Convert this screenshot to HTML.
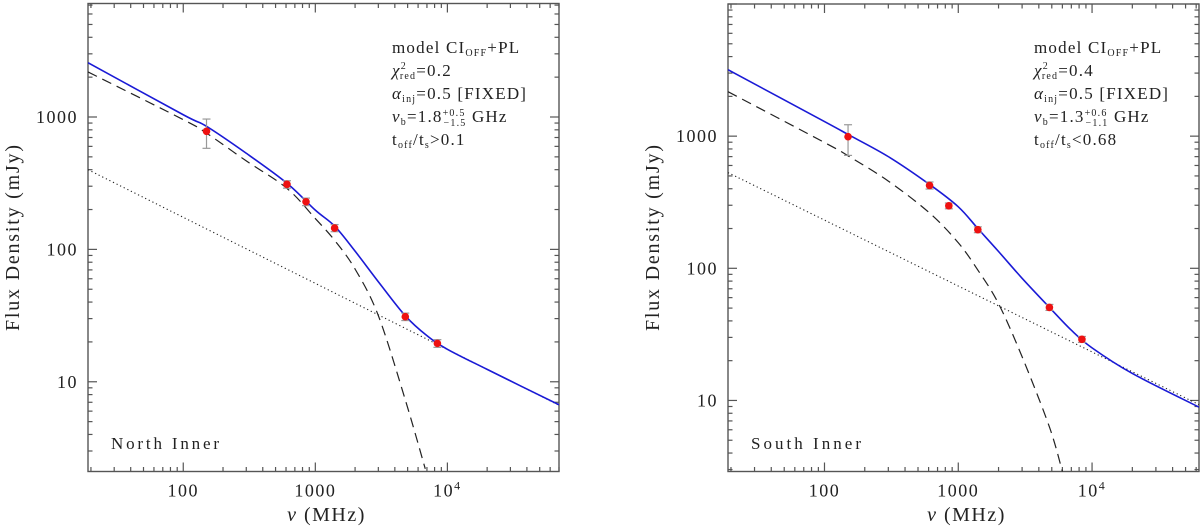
<!DOCTYPE html>
<html><head><meta charset="utf-8"><style>
html,body{margin:0;padding:0;background:#fff;}
svg{display:block;font-family:"Liberation Serif","DejaVu Serif",serif;}
</style></head><body>
<svg id="fig" width="1200" height="527" viewBox="0 0 1200 527" xmlns="http://www.w3.org/2000/svg"></svg>
<script>
// ---- data ----
const dataFreqs = [150, 610, 850, 1400, 4800, 8400];
const northFlux = [780, 310, 229, 145, 31, 19.5];
const northErrLo = [580, 290, 214, 136, 29, 18.2];
const northErrHi = [965, 330, 244, 154, 33, 20.8];
const southFlux = [990, 424, 297, 196, 50.6, 29];
const southErrLo = [715, 398, 282, 186, 48, 27.5];
const southErrHi = [1220, 450, 312, 206, 53.3, 30.5];

const modelFreqsN = [19, 100, 150, 300, 610, 1000, 1400, 2000, 3000, 4800, 7000, 10000, 20000, 70000];
const northModel = [2570, 1040, 850, 532, 316, 198, 150, 97, 57, 31.5, 22.3, 17.6, 12.4, 6.7];
const cioffFreqsN = [19, 100, 150, 300, 610, 1000, 1400, 2000, 3000, 4800, 6800];
const northCI = [2190, 955, 755, 466, 289, 171, 117, 71, 31.6, 7.3, 2.2];
const plFreqsN = [19, 70000];
const northPL = [400, 6.65];

const modelFreqsS = [19, 100, 150, 300, 610, 1000, 1400, 2000, 3000, 4800, 7000, 10000, 20000, 63000];
const southModel = [3180, 1290, 1030, 700, 431, 292, 200, 134, 84, 50.6, 34, 25, 16, 8.9];
const cioffFreqsS = [19, 100, 150, 300, 610, 1000, 1400, 2000, 3000, 4800, 6000];
const southCI = [2170, 895, 710, 457, 262, 156, 97, 54, 21.4, 6.3, 2.9];
const plFreqsS = [19, 63000];
const southPL = [530, 9.3];

const xTickVals = [100, 1000, 10000];
const xTickLabels = ["100", "1000", "10^4"];
const yTickVals = [10, 100, 1000];
const yTickLabels = ["10", "100", "1000"];

const NS = "http://www.w3.org/2000/svg";
const svg = document.getElementById('fig');
function mk(tag, attrs, parent) {
  const e = document.createElementNS(NS, tag);
  for (const k in attrs) e.setAttribute(k, attrs[k]);
  (parent || svg).appendChild(e);
  return e;
}
function smoothPath(pts) {
  let d = 'M' + pts[0][0].toFixed(2) + ',' + pts[0][1].toFixed(2);
  for (let i = 0; i < pts.length - 1; i++) {
    const p0 = pts[i - 1] || pts[i], p1 = pts[i], p2 = pts[i + 1], p3 = pts[i + 2] || p2;
    const c1 = [p1[0] + (p2[0] - p0[0]) / 6, p1[1] + (p2[1] - p0[1]) / 6];
    const c2 = [p2[0] - (p3[0] - p1[0]) / 6, p2[1] - (p3[1] - p1[1]) / 6];
    d += ' C' + c1[0].toFixed(2) + ',' + c1[1].toFixed(2) + ' ' + c2[0].toFixed(2) + ',' + c2[1].toFixed(2) + ' ' + p2[0].toFixed(2) + ',' + p2[1].toFixed(2);
  }
  return d;
}

function panel(cfg) {
  const g = mk('g', {});
  
  
  const lx0 = Math.log10(cfg.xmin), lx1 = Math.log10(cfg.xmax);
  const ly0 = Math.log10(cfg.ymin), ly1 = Math.log10(cfg.ymax);
  const X = f => cfg.L + (Math.log10(f) - lx0) / (lx1 - lx0) * (cfg.R - cfg.L);
  const Y = v => cfg.B - (Math.log10(v) - ly0) / (ly1 - ly0) * (cfg.B - cfg.T);
  const clip = 'clip-' + cfg.name;
  const cp = mk('clipPath', {id: clip}, g);
  mk('rect', {x: cfg.L, y: cfg.T, width: cfg.R - cfg.L, height: cfg.B - cfg.T}, cp);

  // ticks
  const tg = mk('g', {stroke: '#555', 'stroke-width': 1.2}, g);
  
  
  for (let e = 1; e <= 5; e++) for (let m = 1; m <= 9; m++) {
    const f = m * Math.pow(10, e);
    if (f < cfg.xmin || f > cfg.xmax) continue;
    const x = X(f), len = m === 1 ? 9 : 4.5;
    mk('line', {x1: x, x2: x, y1: cfg.B, y2: cfg.B - len}, tg);
    mk('line', {x1: x, x2: x, y1: cfg.T, y2: cfg.T + len}, tg);
  }
  for (let e = 0; e <= 4; e++) for (let m = 1; m <= 9; m++) {
    const v = m * Math.pow(10, e);
    if (v < cfg.ymin || v > cfg.ymax) continue;
    const y = Y(v), len = m === 1 ? 9 : 4.5;
    mk('line', {x1: cfg.L, x2: cfg.L + len, y1: y, y2: y}, tg);
    mk('line', {x1: cfg.R, x2: cfg.R - len, y1: y, y2: y}, tg);
  }
  // frame
  const fr = mk('rect', {x: cfg.L, y: cfg.T, width: cfg.R - cfg.L, height: cfg.B - cfg.T, fill: 'none', stroke: '#555', 'stroke-width': 1.4}, g);
  
  

  // tick labels
  xTickVals.forEach((v, i) => {
    const t = mk('text', {x: X(v), y: cfg.B + 25, 'text-anchor': 'middle', 'font-size': 18, 'letter-spacing': 1.5, fill: '#222'}, g);
    
    
    const lab = xTickLabels[i];
    if (lab.indexOf('^') > 0) {
      const p = lab.split('^');
      t.textContent = p[0];
      const s = mk('tspan', {dy: -7, 'font-size': 12}, t);
      s.textContent = p[1];
    } else t.textContent = lab;
  });
  yTickVals.forEach((v, i) => {
    const t = mk('text', {x: cfg.L - 10, y: Y(v) + 6, 'text-anchor': 'end', 'font-size': 18, 'letter-spacing': 1.5, fill: '#222'}, g);
    
    
    t.textContent = yTickLabels[i];
  });
  // axis titles
  const xt = mk('text', {x: (cfg.L + cfg.R) / 2 + 3, y: 521, 'text-anchor': 'middle', 'font-size': 20, 'letter-spacing': 1.5, fill: '#222'}, g);
  
  
  xt.innerHTML = '<tspan font-style="italic">ν</tspan> (MHz)';
  const yt = mk('text', {x: 0, y: 0, 'text-anchor': 'middle', 'font-size': 20, fill: '#222', textLength: 186, lengthAdjust: 'spacing', transform: 'translate(' + (cfg.L - 69) + ',238) rotate(-90)'}, g);
  
  
  yt.textContent = 'Flux Density (mJy)';

  // curves
  const cg = mk('g', {'clip-path': 'url(#' + clip + ')', fill: 'none'}, g);
  const pl = mk('path', {d: smoothPath(cfg.plF.map((f, i) => [X(f), Y(cfg.pl[i])])), stroke: '#222', 'stroke-width': 1.1, 'stroke-dasharray': '1.2 2.8'}, cg);
  
  
  const ci = mk('path', {d: smoothPath(cfg.ciF.map((f, i) => [X(f), Y(cfg.ci[i])])), stroke: '#222', 'stroke-width': 1.2, 'stroke-dasharray': '10 6'}, cg);
  
  
  const md = mk('path', {d: smoothPath(cfg.modelF.map((f, i) => [X(f), Y(cfg.model[i])])), stroke: '#1a1ad6', 'stroke-width': 1.6}, cg);
  
  

  // data points
  dataFreqs.forEach((f, i) => {
    const x = X(f);
    const eb = mk('g', {stroke: '#999', 'stroke-width': 1.2}, g);
    
    
    mk('line', {x1: x, x2: x, y1: Y(cfg.lo[i]), y2: Y(cfg.hi[i])}, eb);
    mk('line', {x1: x - 4, x2: x + 4, y1: Y(cfg.lo[i]), y2: Y(cfg.lo[i])}, eb);
    mk('line', {x1: x - 4, x2: x + 4, y1: Y(cfg.hi[i]), y2: Y(cfg.hi[i])}, eb);
    const c = mk('circle', {cx: x, cy: Y(cfg.flux[i]), r: 3.8, fill: '#ee1111'}, g);
    
    
  });

  // annotation
  const ag = mk('g', {'font-size': 17, 'letter-spacing': 1.2, fill: '#222'}, g);
  
  
  const lines = [
    'model CI<tspan font-size="10" dy="3">OFF</tspan><tspan dy="-3">+PL</tspan>',
    '<tspan font-style="italic">χ</tspan><tspan font-size="10" dy="-7">2</tspan><tspan font-size="10" dx="-7" dy="10">red</tspan><tspan dy="-3">=' + cfg.chi + '</tspan>',
    '<tspan font-style="italic">α</tspan><tspan font-size="10" dy="3">inj</tspan><tspan dy="-3">=0.5 [FIXED]</tspan>',
    '<tspan font-style="italic">ν</tspan><tspan font-size="10" dy="3">b</tspan><tspan dy="-3">=' + cfg.nub + '</tspan><tspan font-size="10" dy="-6">' + cfg.up + '</tspan><tspan font-size="10" dx="-22" dy="10">' + cfg.dn + '</tspan><tspan dy="-4"> GHz</tspan>',
    't<tspan font-size="10" dy="3">off</tspan><tspan dy="-3">/t</tspan><tspan font-size="10" dy="3">s</tspan><tspan dy="-3">' + cfg.toff + '</tspan>'
  ];
  lines.forEach((h, i) => {
    const t = mk('text', {x: cfg.annX, y: 53 + i * 23}, ag);
    t.innerHTML = h;
  });
  const nm = mk('text', {x: cfg.L + 23, y: 449, 'font-size': 17, fill: '#222', textLength: cfg.labW, lengthAdjust: 'spacing'}, g);
  
  
  nm.textContent = cfg.label;
}

panel({name: 'north-inner-panel', L: 88, R: 559, T: 3.5, B: 471.5, xmin: 19, xmax: 70000, ymin: 2.1, ymax: 7200,
  flux: northFlux, lo: northErrLo, hi: northErrHi, modelF: modelFreqsN, model: northModel,
  ciF: cioffFreqsN, ci: northCI, plF: plFreqsN, pl: northPL,
  chi: '0.2', nub: '1.8', up: '+0.5', dn: '−1.5', toff: '&gt;0.1', annX: 392, label: 'North Inner', labW: 108});
panel({name: 'south-inner-panel', L: 728, R: 1199, T: 4, B: 471.5, xmin: 19, xmax: 63000, ymin: 2.9, ymax: 10000,
  flux: southFlux, lo: southErrLo, hi: southErrHi, modelF: modelFreqsS, model: southModel,
  ciF: cioffFreqsS, ci: southCI, plF: plFreqsS, pl: southPL,
  chi: '0.4', nub: '1.3', up: '+0.6', dn: '−1.1', toff: '&lt;0.68', annX: 1034, label: 'South Inner', labW: 110});
</script>
</body></html>
